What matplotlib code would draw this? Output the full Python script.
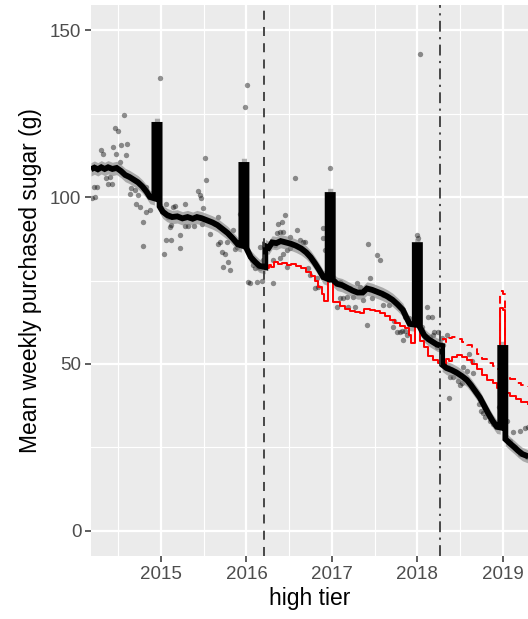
import matplotlib
matplotlib.use("Agg")
import matplotlib.pyplot as plt

# ---------------- data ----------------
# fitted model line (black): vertices (decimal year, value); repeated years = vertical jumps
fit_year = [2014.18, 2014.22, 2014.26, 2014.30, 2014.34, 2014.38, 2014.43, 2014.48, 2014.53, 2014.58,
            2014.63, 2014.68, 2014.73, 2014.78, 2014.83, 2014.87, 2014.922, 2014.922, 2014.95, 2014.983,
            2014.983, 2015.02, 2015.07, 2015.13, 2015.19, 2015.25, 2015.31, 2015.37, 2015.42, 2015.48,
            2015.54, 2015.60, 2015.66, 2015.72, 2015.78, 2015.84, 2015.90, 2015.94, 2015.94, 2016.0,
            2016.0, 2016.05, 2016.10, 2016.15, 2016.22, 2016.22, 2016.26, 2016.30, 2016.35, 2016.40,
            2016.46, 2016.52, 2016.58, 2016.64, 2016.70, 2016.75, 2016.80, 2016.85, 2016.90, 2016.95,
            2016.95, 2017.01, 2017.01, 2017.06, 2017.12, 2017.18, 2017.24, 2017.30, 2017.36, 2017.41,
            2017.47, 2017.53, 2017.59, 2017.65, 2017.71, 2017.77, 2017.83, 2017.87, 2017.91, 2017.97,
            2017.97, 2018.03, 2018.03, 2018.08, 2018.13, 2018.18, 2018.23, 2018.29, 2018.29, 2018.34,
            2018.40, 2018.46, 2018.52, 2018.58, 2018.63, 2018.68, 2018.73, 2018.78, 2018.83, 2018.88,
            2018.93, 2018.97, 2018.97, 2019.03, 2019.03, 2019.08, 2019.13, 2019.18, 2019.23, 2019.30]
fit_value = [108.3, 108.8, 108.3, 108.9, 108.4, 108.9, 108.4, 108.7, 107.8, 106.6,
             106.0, 105.2, 104.4, 103.2, 101.6, 100.0, 99.6, 121.6, 121.6, 121.6,
             97.2, 95.6, 94.6, 94.0, 94.2, 93.6, 94.0, 93.5, 94.0, 93.6,
             93.0, 92.4, 91.6, 90.4, 89.2, 87.6, 85.8, 85.5, 109.6, 109.6,
             84.6, 82.0, 80.6, 79.4, 79.0, 85.3, 84.8, 86.4, 86.2, 86.8,
             86.4, 86.0, 85.4, 84.6, 83.4, 82.0, 80.2, 78.2, 76.0, 75.5,
             100.6, 100.6, 75.2, 74.0, 73.6, 72.8, 72.0, 71.4, 71.4, 72.6,
             72.2, 71.6, 71.0, 70.2, 69.2, 67.8, 66.2, 64.0, 62.0, 61.8,
             85.6, 85.6, 61.0, 58.6, 57.4, 56.6, 55.8, 55.4, 49.8, 48.8,
             48.2, 47.4, 46.4, 45.2, 43.6, 41.8, 40.0, 37.6, 35.2, 33.0,
             31.2, 31.0, 54.8, 54.8, 27.5, 26.3, 25.2, 24.0, 23.0, 22.3]
ribbon_half = 2.0

# counterfactual (red solid), step knots
cf_year = [2016.22, 2016.26, 2016.29, 2016.32, 2016.37, 2016.42, 2016.47, 2016.52, 2016.58, 2016.64,
           2016.70, 2016.75, 2016.80, 2016.84, 2016.88, 2016.91, 2016.95, 2016.98, 2017.01, 2017.09,
           2017.15, 2017.21, 2017.27, 2017.33, 2017.38, 2017.44, 2017.50, 2017.56, 2017.62, 2017.68,
           2017.74, 2017.80, 2017.86, 2017.90, 2017.93, 2017.97, 2018.0, 2018.03, 2018.08, 2018.13,
           2018.18, 2018.24, 2018.29, 2018.33, 2018.37, 2018.41, 2018.46, 2018.52, 2018.58, 2018.64,
           2018.70, 2018.76, 2018.82, 2018.88, 2018.93, 2018.97, 2019.0, 2019.03, 2019.09, 2019.15,
           2019.21, 2019.30]
cf_value = [78.8, 79.6, 79.0, 80.4, 79.8, 80.2, 79.6, 79.9, 79.2, 78.6,
            77.4, 76.2, 74.8, 73.0, 71.0, 69.0, 94.0, 93.5, 68.6, 67.4,
            66.6, 66.0, 65.6, 65.2, 66.6, 66.2, 65.8, 65.4, 64.4, 63.2,
            62.2, 61.4, 60.8, 58.6, 56.4, 79.6, 79.0, 57.0, 55.0, 52.5,
            51.3, 50.2, 49.8, 51.6, 51.0, 52.2, 52.6, 52.2, 51.2, 50.0,
            48.4, 46.8, 45.3, 44.2, 42.8, 66.8, 66.2, 41.2, 40.4, 39.4,
            38.6, 38.0]

# second counterfactual (red dashed), step knots
cf2_year = [2018.29, 2018.33, 2018.37, 2018.41, 2018.46, 2018.52, 2018.58, 2018.64, 2018.70, 2018.76,
            2018.82, 2018.88, 2018.93, 2018.97, 2019.0, 2019.03, 2019.09, 2019.15, 2019.21, 2019.30]
cf2_value = [57.4, 56.6, 57.8, 58.2, 57.4, 56.6, 55.6, 54.4, 53.0, 51.6,
             50.4, 49.4, 48.4, 71.8, 71.0, 46.4, 45.4, 44.4, 43.6, 43.2]

# observed weekly data points (decimal year, value)
obs_year = [2014.99, 2014.57, 2014.46, 2014.50, 2014.30, 2014.32, 2014.44, 2014.53, 2014.60, 2014.47,
            2014.52, 2014.59, 2015.51, 2014.22, 2014.25, 2014.19, 2014.23, 2014.36, 2014.38, 2014.42,
            2014.40, 2014.65, 2014.70, 2014.64, 2014.73, 2014.82, 2014.87, 2014.82, 2014.71, 2014.75,
            2014.79, 2014.79, 2015.06, 2015.14, 2015.16, 2015.08, 2015.11, 2015.12, 2015.06, 2015.12,
            2015.04, 2015.22, 2015.22, 2015.28, 2015.28, 2015.43, 2015.46, 2015.47, 2015.49, 2015.53,
            2015.32, 2015.39, 2016.01, 2015.98, 2015.46, 2015.48, 2015.67, 2015.63, 2015.57, 2015.69,
            2015.67, 2015.77, 2015.84, 2015.71, 2015.75, 2015.73, 2015.81, 2015.78, 2015.87, 2015.89,
            2015.92, 2015.96, 2016.02, 2016.04, 2016.12, 2016.18, 2016.06, 2016.10, 2016.13, 2016.31,
            2016.37, 2016.42, 2016.45, 2016.39, 2016.36, 2016.43, 2016.33, 2016.47, 2016.51, 2016.51,
            2016.57, 2016.59, 2016.63, 2016.66, 2016.68, 2016.82, 2016.84, 2016.98, 2017.42, 2017.53,
            2017.56, 2017.44, 2017.41, 2016.89, 2016.89, 2016.72, 2016.74, 2017.09, 2017.13, 2017.18,
            2017.25, 2017.15, 2017.21, 2017.29, 2017.33, 2017.60, 2017.71, 2017.76, 2017.83, 2017.88,
            2017.80, 2018.11, 2018.17, 2018.20, 2016.08, 2016.16, 2016.43, 2016.39, 2016.47, 2016.31,
            2016.19, 2016.16, 2016.92, 2016.80, 2017.19, 2017.27, 2017.06, 2017.10, 2017.36, 2017.47,
            2017.60, 2017.67, 2017.67, 2017.73, 2017.85, 2017.90, 2017.99, 2018.01, 2017.82, 2017.85,
            2018.06, 2018.12, 2018.09, 2018.15, 2018.18, 2018.24, 2018.26, 2018.30, 2018.29, 2018.35,
            2018.23, 2018.36, 2018.38, 2018.42, 2018.44, 2018.47, 2018.50, 2018.52, 2018.53, 2018.58,
            2018.61, 2018.64, 2018.65, 2018.37, 2018.77, 2018.79, 2018.85, 2018.88, 2018.93, 2018.96,
            2019.00, 2019.05, 2019.12, 2019.20, 2019.26, 2019.29, 2019.08, 2019.14, 2019.20, 2019.28,
            2018.68, 2018.72, 2018.75, 2018.03]
obs_value = [135.6, 124.5, 120.6, 119.8, 114.0, 113.0, 115.0, 115.5, 116.0, 113.0,
             110.5, 112.5, 111.7, 103.0, 103.0, 99.7, 100.0, 105.7, 104.0, 104.0,
             106.0, 102.7, 102.0, 101.0, 100.6, 103.0, 96.0, 95.5, 98.0, 97.0,
             92.5, 85.3, 98.0, 97.0, 97.3, 94.0, 91.0, 91.6, 87.0, 87.0,
             83.0, 88.6, 84.7, 98.0, 91.3, 101.8, 100.6, 99.7, 96.7, 105.0,
             91.3, 91.3, 133.5, 127.0, 94.0, 92.0, 94.0, 92.0, 89.0, 86.5,
             86.0, 86.5, 90.0, 83.5, 83.0, 79.0, 78.0, 80.5, 84.4, 85.0,
             95.0, 96.0, 74.5, 74.2, 74.5, 75.0, 81.0, 78.7, 79.0, 74.2,
             92.0, 92.5, 94.6, 89.5, 89.2, 89.5, 85.6, 84.0, 84.7, 88.0,
             105.7, 90.0, 87.0, 86.5, 86.5, 75.7, 73.0, 108.7, 86.0, 82.6,
             81.0, 75.7, 61.7, 87.7, 90.7, 78.7, 76.6, 74.5, 69.8, 70.0,
             70.0, 73.0, 72.7, 74.2, 73.0, 67.7, 61.0, 59.6, 57.2, 58.7,
             59.6, 67.0, 64.0, 59.6, 79.6, 78.7, 83.0, 81.7, 79.0, 81.0,
             81.0, 85.0, 84.0, 72.7, 67.0, 67.0, 67.0, 69.8, 69.2, 69.8,
             70.7, 69.8, 67.7, 63.0, 60.0, 63.8, 88.6, 87.7, 60.0, 64.0,
             61.0, 64.0, 58.0, 58.0, 58.7, 59.6, 56.3, 55.7, 57.8, 58.7,
             55.0, 49.0, 46.0, 46.0, 48.0, 45.0, 43.7, 44.3, 49.0, 48.0,
             53.0, 51.0, 47.3, 39.8, 35.3, 34.0, 33.0, 32.0, 31.0, 37.0,
             37.7, 33.0, 29.6, 30.0, 30.8, 31.0, 27.0, 25.0, 23.0, 22.0,
             42.0, 38.0, 36.0, 142.8]

vline_dashed = 2016.2
vline_dotdash = 2018.27

x_ticks = [2015, 2016, 2017, 2018, 2019]
x_tick_labels = ["2015", "2016", "2017", "2018", "2019"]
y_ticks = [0, 50, 100, 150]
y_tick_labels = ["0", "50", "100", "150"]
x_minor = [2014.5, 2015.5, 2016.5, 2017.5, 2018.5]
y_minor = [25, 75, 125]

# ---------------- plot ----------------
plt.rcParams['font.family'] = ['Liberation Sans', 'DejaVu Sans']
fig = plt.figure(figsize=(5.28, 6.19), dpi=100)
ax = fig.add_axes([91 / 528, 1 - 556 / 619, (528 - 91) / 528, 551 / 619])
ax.set_facecolor('#EBEBEB')

ax.set_xlim(2014.18, 2019.295)
ax.set_ylim(-7.5, 157.5)

for v in x_minor:
    ax.axvline(v, color='white', lw=0.8, zorder=0)
for v in y_minor:
    ax.axhline(v, color='white', lw=0.8, zorder=0)
for v in x_ticks:
    ax.axvline(v, color='white', lw=1.6, zorder=0)
for v in y_ticks:
    ax.axhline(v, color='white', lw=1.6, zorder=0)

ax.scatter(obs_year, obs_value, s=15, color='black', alpha=0.42, linewidths=0, zorder=2)

lo = [v - ribbon_half for v in fit_value]
hi = [v + ribbon_half for v in fit_value]
ax.fill_between(fit_year, lo, hi, color='#808080', alpha=0.6, linewidth=0, zorder=3)

ax.plot(cf_year, cf_value, drawstyle='steps-post', color='red', lw=1.4, zorder=4)
ax.plot(cf2_year, cf2_value, drawstyle='steps-post', color='red', lw=1.4,
        dashes=(4, 3), zorder=4)
ax.plot(fit_year, fit_value, color='black', lw=4.2, zorder=5,
        solid_joinstyle='miter', solid_capstyle='butt')

ax.axvline(vline_dashed, color='#3A3A3A', lw=1.3, dashes=(5, 4), zorder=6)
ax.axvline(vline_dotdash, color='#3A3A3A', lw=1.3, dashes=(6, 3, 1.2, 3), zorder=6)

ax.set_xticks(x_ticks)
ax.set_xticklabels(x_tick_labels)
ax.set_yticks(y_ticks)
ax.set_yticklabels(y_tick_labels)
ax.tick_params(axis='both', length=4, width=1.1, color='#333333', labelcolor='#4D4D4D',
               labelsize=13.5, pad=3)
for s in ax.spines.values():
    s.set_visible(False)

ax.set_xlabel('high tier', fontsize=16.5, color='black', labelpad=3)
ax.set_ylabel('Mean weekly purchased sugar (g)', fontsize=16.5, color='black', labelpad=6)

fig.savefig('out.png', dpi=100)
